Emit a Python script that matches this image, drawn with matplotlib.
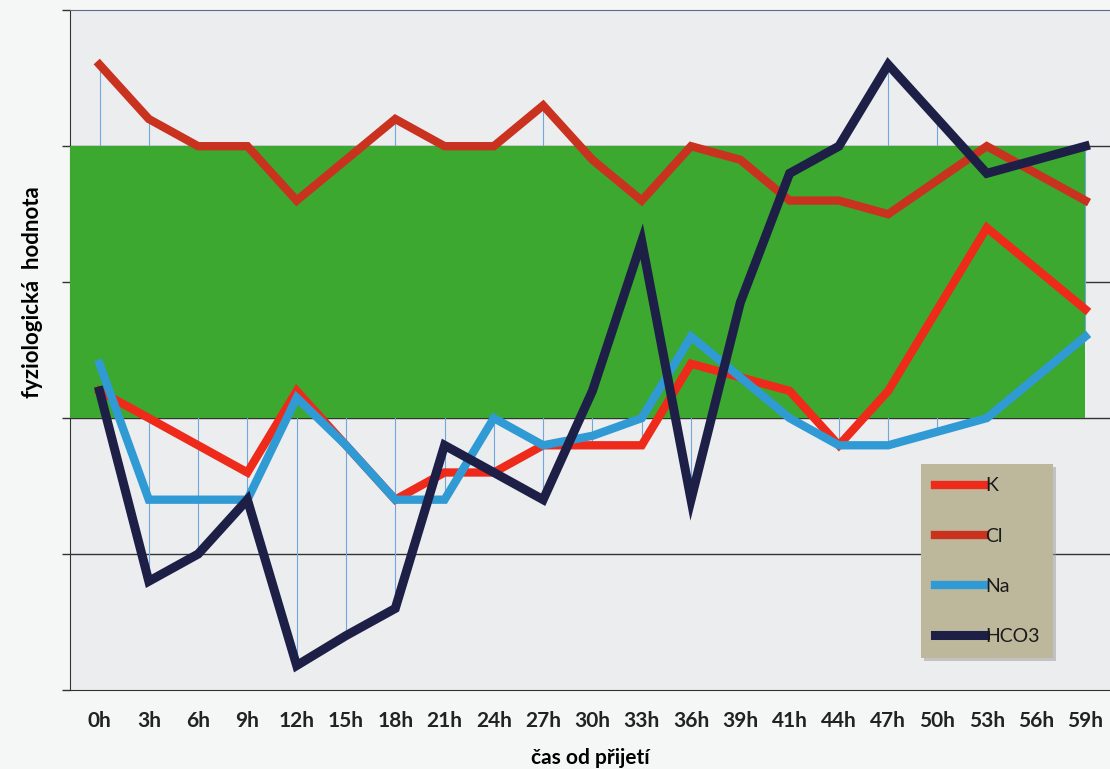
import numpy as np
import matplotlib
matplotlib.use('Agg')
import matplotlib.pyplot as plt

matplotlib.rcParams.update({'font.family': ['Lato', 'DejaVu Sans'], 'font.size': 14})

# data
hours = ['0h', '3h', '6h', '9h', '12h', '15h', '18h', '21h', '24h', '27h', '30h',
         '33h', '36h', '39h', '41h', '44h', '47h', '50h', '53h', '56h', '59h']
K = [2.2, 2.0, 1.8, 1.6, 2.2, 1.8, 1.4, 1.6, 1.6, 1.8, 1.8,
     1.8, 2.4, 2.3, 2.2, 1.8, 2.2, 2.8, 3.4, 3.1, 2.8]
Cl = [4.6, 4.2, 4.0, 4.0, 3.6, 3.9, 4.2, 4.0, 4.0, 4.3, 3.9,
      3.6, 4.0, 3.9, 3.6, 3.6, 3.5, 3.75, 4.0, 3.8, 3.6]
Na = [2.4, 1.4, 1.4, 1.4, 2.15, 1.8, 1.4, 1.4, 2.0, 1.8, 1.87,
      2.0, 2.6, 2.3, 2.0, 1.8, 1.8, 1.9, 2.0, 2.3, 2.6]
HCO3 = [2.2, 0.8, 1.0, 1.4, 0.18, 0.4, 0.6, 1.8, 1.6, 1.4, 2.2,
        3.3, 1.4, 2.85, 3.8, 4.0, 4.6, 4.2, 3.8, 3.9, 4.0]
norm_low, norm_high = 2.0, 4.0

series = [('K', K, '#EE2A1B'), ('Cl', Cl, '#C9321F'),
          ('Na', Na, '#2F9AD3'), ('HCO3', HCO3, '#1D1F47')]

x = np.arange(len(hours))
fig = plt.figure(figsize=(11.1, 7.69), dpi=100)
fig.patch.set_facecolor('#F5F6F6')
ax = fig.add_axes([0.063, 0.1027, 0.937, 0.884])
ax.set_facecolor('#ECEDEF')

ax.set_xlim(-0.6, 20.5)
ax.set_ylim(0, 5)

# gridlines
for g in [1, 2, 3, 4]:
    ax.axhline(g, color='#333333', lw=1.0, zorder=1)

# high-low lines
allv = np.array([K, Cl, Na, HCO3])
ax.vlines(x, allv.min(axis=0), allv.max(axis=0), color='#6FA8DC', lw=0.8, zorder=2)

# physiological range
ax.fill_between([-0.6, 20], norm_low, norm_high, color='#3DA82F', lw=0, zorder=3)

for name, vals, col in series:
    lw = 6.5 if name == 'HCO3' else 6
    ax.plot(x, vals, color=col, lw=lw, label=name, zorder=4, solid_joinstyle='miter')

ax.set_xticks(x)
ax.set_xticklabels(hours, fontweight='bold', color='#222222', fontsize=15)
ax.tick_params(axis='x', length=0, pad=15)
ax.set_yticks([0, 1, 2, 3, 4, 5])
ax.set_yticklabels([])
ax.tick_params(axis='y', direction='out', length=6, width=1, color='#333333')

ax.spines['right'].set_visible(False)
ax.spines['left'].set_color('#333333')
ax.spines['bottom'].set_color('#333333')
ax.spines['top'].set_color('#5A6E86')

ax.set_xlabel('čas od přijetí', fontweight='bold', fontsize=15, labelpad=12)
ax.set_ylabel('fyziologická  hodnota', fontweight='bold', fontsize=16)
ax.yaxis.set_label_coords(-0.026, 0.585)

leg = ax.legend(loc='upper left', bbox_to_anchor=(0.809, 0.347), frameon=True,
                fancybox=False, shadow={'ox': 2, 'oy': -2, 'color': '#999999', 'alpha': 0.5},
                facecolor='#BDB89C', edgecolor='#BDB89C',
                framealpha=1, handlelength=2.6, handletextpad=0.0, labelspacing=1.7,
                borderpad=0.7, fontsize=14)
leg.get_frame().set_linewidth(0)
for t in leg.get_texts():
    t.set_color('#1a1a1a')

fig.savefig('out.png', dpi=100, facecolor=fig.get_facecolor())
